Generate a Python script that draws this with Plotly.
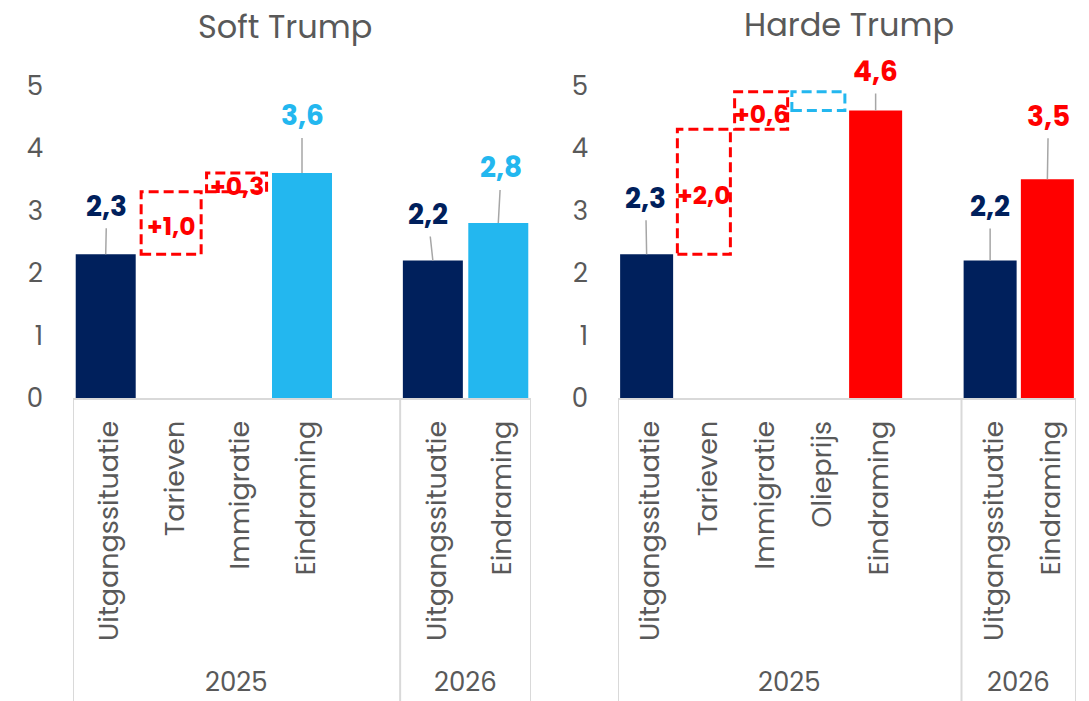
import plotly.graph_objects as go

# ---------------- data ----------------
years = ["2025", "2026"]
y_ticks = [0, 1, 2, 3, 4, 5]

soft_cats_2025 = ["Uitgangssituatie", "Tarieven", "Immigratie", "Eindraming", ""]
soft_cats_2026 = ["Uitgangssituatie", "Eindraming"]
soft_start_2025 = 2.3
soft_steps = [1.0, 0.3]
soft_end_2025 = 3.6
soft_start_2026 = 2.2
soft_end_2026 = 2.8

harde_cats_2025 = ["Uitgangssituatie", "Tarieven", "Immigratie", "Olieprijs", "Eindraming", ""]
harde_cats_2026 = ["Uitgangssituatie", "Eindraming"]
harde_start_2025 = 2.3
harde_steps = [2.0, 0.6, -0.3]
harde_end_2025 = 4.6
harde_start_2026 = 2.2
harde_end_2026 = 3.5

# ---------------- style ----------------
NAVY = "#00205C"
CYAN = "#23B7EF"
RED = "#FF0000"
GREY_TXT = "#595959"
GREY_LINE = "#D9D9D9"
LEADER = "#A6A6A6"
AXIS_FONT = "Poppins, Inter, sans-serif"
LABEL_FONT = "Poppins, Inter, sans-serif"

W, H = 1089, 701
Y_DOMAIN = [1 - 398 / H, 1 - 85.5 / H]


def fmt(v, signed=False):
    s = f"{abs(v):.1f}".replace(".", ",")
    if signed:
        return ("+" if v >= 0 else "-") + s
    return ("-" if v < 0 else "") + s


fig = go.Figure()


def panel(xname, yname, cats25, cats26, start25, steps, end25, start26, end26,
          end_color, bar_w, offsets):
    xr, yr = xname, yname
    n25 = len(cats25)
    cats = cats25 + cats26
    i_end25 = cats25.index("Eindraming")
    i_start26 = n25 + cats26.index("Uitgangssituatie")
    i_end26 = n25 + cats26.index("Eindraming")

    # solid bars: starting point and final estimate
    fig.add_trace(go.Bar(x=[0, i_start26], y=[start25, start26], width=bar_w,
                         marker=dict(color=NAVY, line=dict(width=0)),
                         xaxis=xr, yaxis=yr, hoverinfo="skip"))
    fig.add_trace(go.Bar(x=[i_end25, i_end26], y=[end25, end26], width=bar_w,
                         marker=dict(color=end_color, line=dict(width=0)),
                         xaxis=xr, yaxis=yr, hoverinfo="skip"))

    # dashed step boxes for each contribution
    level = start25
    for k, step in enumerate(steps):
        i = 1 + k
        lo, hi = sorted([level, level + step])
        col = RED if step > 0 else CYAN
        fig.add_shape(type="rect", xref=xr, yref=yr,
                      x0=i - bar_w / 2, x1=i + bar_w / 2, y0=lo, y1=hi,
                      line=dict(color=col, width=3, dash="10px,5px"),
                      fillcolor="rgba(0,0,0,0)", layer="above")
        if step > 0:
            fig.add_annotation(xref=xr, yref=yr, x=i, y=(lo + hi) / 2,
                               xanchor="center", yanchor="middle", yshift=-4,
                               text=f"<b>{fmt(step, True)}</b>", showarrow=False,
                               font=dict(family=LABEL_FONT, size=25, color=col))
        level += step

    # value labels with leader lines
    vals = [(0, start25, NAVY), (i_end25, end25, end_color),
            (i_start26, start26, NAVY), (i_end26, end26, end_color)]
    for (i, v, c), (ax, ay) in zip(vals, offsets):
        fig.add_annotation(xref=xr, yref=yr, x=i, y=v, ax=ax, ay=ay,
                           text=f"<b>{fmt(v)}</b>", showarrow=True,
                           arrowhead=0, arrowwidth=1.5, arrowcolor=LEADER,
                           borderpad=2, standoff=0,
                           font=dict(family=LABEL_FONT, size=28, color=c))

    # category frame below the axis
    for xb in [-0.5, n25 - 0.5, len(cats) - 0.5]:
        fig.add_shape(type="line", xref=xr, yref="paper", x0=xb, x1=xb,
                      y0=0, y1=Y_DOMAIN[0], line=dict(color=GREY_LINE, width=2))
    # year labels centred under each group
    groups = [(-0.5, n25 - 0.5), (n25 - 0.5, len(cats) - 0.5)]
    for yr_txt, (a, b) in zip(years, groups):
        fig.add_annotation(xref=xr, yref="paper", x=(a + b) / 2, y=1 - 682 / H,
                           xanchor="center", yanchor="middle",
                           text=yr_txt, showarrow=False,
                           font=dict(family=AXIS_FONT, size=26, color=GREY_TXT))
    return cats


soft_all = panel("x", "y", soft_cats_2025, soft_cats_2026, soft_start_2025,
                 soft_steps, soft_end_2025, soft_start_2026, soft_end_2026,
                 CYAN, 0.917, [(1, -48), (0, -57), (-5, -46), (3, -55)])
harde_all = panel("x2", "y2", harde_cats_2025, harde_cats_2026, harde_start_2025,
                  harde_steps, harde_end_2025, harde_start_2026, harde_end_2026,
                  RED, 0.926, [(-1, -56), (0, -39), (0, -54), (1, -63)])

xa_common = dict(tickangle=-90, showline=True, linecolor=GREY_LINE, linewidth=2,
                 ticks="", showgrid=False, zeroline=False, ticklabelstandoff=10,
                 ticklabelshift=4, automargin=False,
                 tickfont=dict(family=AXIS_FONT, size=27, color=GREY_TXT))
ya_common = dict(range=[0, 5], tickvals=y_ticks, showgrid=False, zeroline=False,
                 showline=False, ticks="", domain=Y_DOMAIN, ticklabelstandoff=29,
                 automargin=False,
                 tickfont=dict(family=AXIS_FONT, size=26, color=GREY_TXT))

fig.update_layout(
    template="none",
    width=W, height=H, margin=dict(l=0, r=0, t=0, b=0, pad=0),
    paper_bgcolor="white", plot_bgcolor="white", showlegend=False,
    xaxis=dict(domain=[73 / W, 531 / W], range=[-0.5, len(soft_all) - 0.5],
               tickvals=list(range(len(soft_all))), ticktext=soft_all,
               anchor="y", **xa_common),
    xaxis2=dict(domain=[618 / W, 1076 / W], range=[-0.5, len(harde_all) - 0.5],
                tickvals=list(range(len(harde_all))), ticktext=harde_all,
                anchor="y2", **xa_common),
    yaxis=dict(anchor="x", **ya_common),
    yaxis2=dict(anchor="x2", **ya_common),
)

# chart titles
fig.add_annotation(xref="paper", yref="paper", x=285 / W, y=1 - 27 / H,
                   xanchor="center", yanchor="middle",
                   text="Soft Trump", showarrow=False,
                   font=dict(family=AXIS_FONT, size=32, color=GREY_TXT))
fig.add_annotation(xref="paper", yref="paper", x=849 / W, y=1 - 24 / H,
                   xanchor="center", yanchor="middle",
                   text="Harde Trump", showarrow=False,
                   font=dict(family=AXIS_FONT, size=32, color=GREY_TXT))

fig.write_html("out.html")
